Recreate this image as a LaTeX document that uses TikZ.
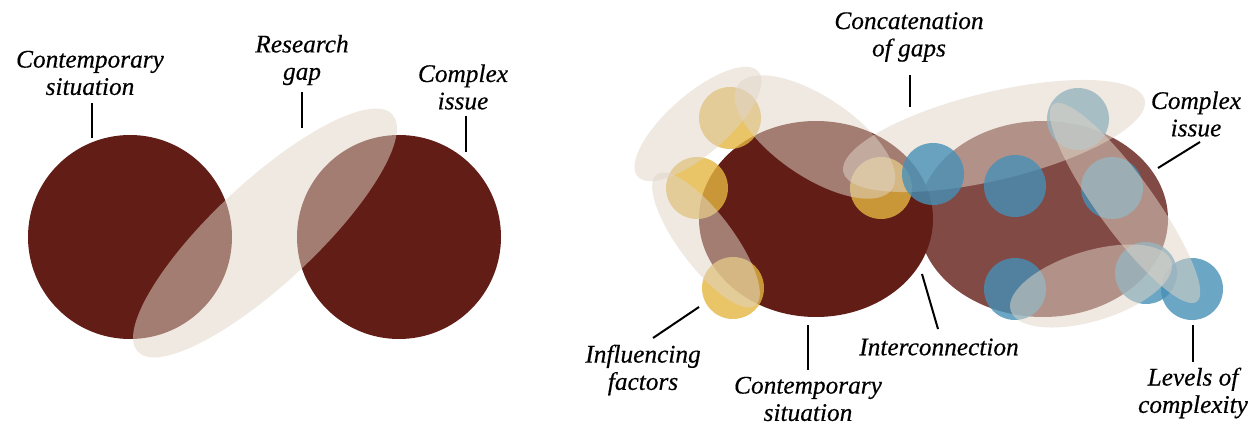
\documentclass[tikz,border=0pt]{standalone}
\usepackage{fontspec}
\setmainfont{Liberation Serif}
\newfontfamily\lblfont{Liberation Serif}[FakeBold=0.4]
\definecolor{maroon}{RGB}{98,29,23}
\definecolor{sand}{RGB}{224,213,199}
\definecolor{teal}{RGB}{71,144,182}
\definecolor{gold}{RGB}{227,182,65}
\begin{document}
\begin{tikzpicture}[x=0.75pt,y=-0.75pt,
  lbl/.style={font=\lblfont\itshape\fontsize{19}{20.5}\selectfont, align=center, inner sep=0pt, text=black},
  lead/.style={line width=1.5pt, black},
  gapshape/.style={fill=sand, fill opacity=0.52},
  issue/.style={fill=maroon, fill opacity=0.8},
  bluedot/.style={fill=teal, fill opacity=0.8},
  golddot/.style={fill=gold, fill opacity=0.8}]
\useasboundingbox (0,0) rectangle (1252,424);

% ---------- left panel ----------
\fill[maroon] (130,237) circle [radius=102];
\fill[maroon] (399,237) circle [radius=102];
\fill[gapshape, rotate around={43:(265,233)}] (265,233) ellipse [x radius=174, y radius=51];

\node[lbl] (lcs) at (90,73) {Contemporary\\situation};
\node[lbl] (lrg) at (302,60) {Research\\gap};
\node[lbl] (lci) at (463,87) {Complex\\issue};
\coordinate (lcs-a) at (92,103);  \coordinate (lcs-b) at (92,138);
\coordinate (lrg-a) at (302,92);  \coordinate (lrg-b) at (302,128);
\coordinate (lci-a) at (466,116); \coordinate (lci-b) at (466,152);
\draw[lead] (lcs-a) -- (lcs-b);
\draw[lead] (lrg-a) -- (lrg-b);
\draw[lead] (lci-a) -- (lci-b);

% ---------- right panel ----------
\fill[maroon] (816,219) ellipse [x radius=117, y radius=98];
\fill[issue] (1043,219) ellipse [x radius=125, y radius=98];

% influencing factors
\fill[golddot] (730,118) circle [radius=31];
\fill[golddot] (697,188) circle [radius=31];
\fill[golddot] (733,288) circle [radius=31];
\fill[golddot] (881,188) circle [radius=31];

% levels of complexity, partly veiled by the gaps
\fill[bluedot] (1112,188) circle [radius=31];
\fill[bluedot] (1078,119) circle [radius=31];
\fill[bluedot] (1015,289) circle [radius=31];
\fill[bluedot] (1146,273) circle [radius=31];
\fill[bluedot] (1192,289) circle [radius=31];

% gaps
\fill[gapshape, rotate around={41:(698,124)}] (698,124) ellipse [x radius=80, y radius=30];
\fill[gapshape, rotate around={-34:(815,137)}] (815,137) ellipse [x radius=93, y radius=40];
\fill[gapshape, rotate around={13.5:(994,136)}] (994,136) ellipse [x radius=155, y radius=44];
\fill[gapshape, rotate around={-53:(706,240)}] (706,240) ellipse [x radius=82, y radius=27];

% levels of complexity lying over the concatenated gaps
\fill[bluedot] (933,174) circle [radius=31];
\fill[bluedot] (1015,186) circle [radius=31];

\fill[gapshape, rotate around={-54:(1125,203)}] (1125,203) ellipse [x radius=122, y radius=28];
\fill[gapshape, rotate around={17:(1091,286)}] (1091,286) ellipse [x radius=84, y radius=35];

\node[lbl] (rcg) at (909,37) {Concatenation\\of gaps};
\node[lbl] (rci) at (1196,114) {Complex\\issue};
\node[lbl] (rif) at (643,370) {Influencing\\factors};
\node[lbl] (rcs) at (808,399) {Contemporary\\situation};
\node[lbl] (ric) at (939,347) {Interconnection};
\node[lbl] (rlc) at (1193,393) {Levels of\\complexity};

\coordinate (rcg-a) at (910,75);   \coordinate (rcg-b) at (910,107);
\coordinate (rci-a) at (1200,142); \coordinate (rci-b) at (1158,168);
\coordinate (rif-a) at (699,307);  \coordinate (rif-b) at (653,338);
\coordinate (rcs-a) at (808,325);  \coordinate (rcs-b) at (808,370);
\coordinate (ric-a) at (922,274);  \coordinate (ric-b) at (938,329);
\coordinate (rlc-a) at (1193,325); \coordinate (rlc-b) at (1193,362);
\draw[lead] (rcg-a) -- (rcg-b);
\draw[lead] (rci-a) -- (rci-b);
\draw[lead] (rif-a) -- (rif-b);
\draw[lead] (rcs-a) -- (rcs-b);
\draw[lead] (ric-a) -- (ric-b);
\draw[lead] (rlc-a) -- (rlc-b);
\end{tikzpicture}
\end{document}
